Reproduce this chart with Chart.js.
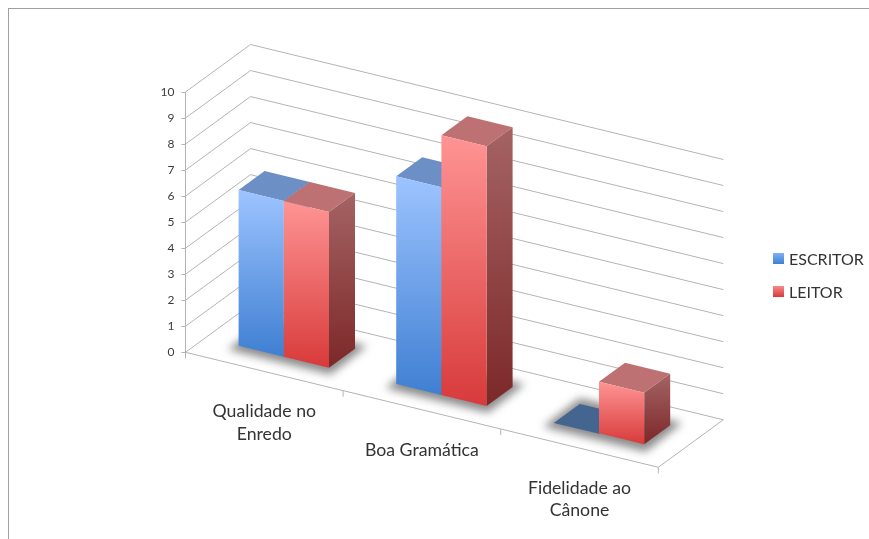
<!DOCTYPE html>
<html>
<head>
<meta charset="utf-8">
<title>Escritor x Leitor</title>
<script src="https://cdn.jsdelivr.net/npm/chart.js@4/dist/chart.umd.min.js"></script>
<style>
    html, body { margin: 0; padding: 0; background: #fff; overflow: hidden; }
    #wrap { position: relative; width: 869px; height: 539px; }
    #frame { position: absolute; left: 8px; top: 8px; right: 0; bottom: 0; border-left: 1px solid #a0a0a0; border-top: 1px solid #a0a0a0; }
    canvas { position: absolute; left: 0; top: 0; }
</style>
</head>
<body>
<div id="wrap">
    <div id="frame"></div>
    <canvas id="graphCanvas" width="869" height="539"></canvas>
</div>
<script>
const categories = [['Qualidade no', 'Enredo'], ['Boa Gramática'], ['Fidelidade ao', 'Cânone']];
const escritorValues = [6, 8, 0];
const leitorValues = [6, 10, 2];
const yMin = 0;
const yMax = 10;

// Oblique projection of the floor: depth vector and slope of the category axis
const DEPTH_X = 65;
const DEPTH_Y = 47.5;
const SLOPE = 0.2432;
const BAR_FRONT = 0.3;
const BAR_BACK = 0.7;

const FONT = 'Lato, "Open Sans", sans-serif';
const GRID = '#b4b4b4';

const palette = [
    { front: ['#9dc4ff', '#3f7fd2'], top: '#6c90c6', side: ['#5f7fb0', '#2f5c9c'], flat: '#456591', swatch: ['#7fb0f5', '#3f7fd2'] },
    { front: ['#ff9494', '#d83a3a'], top: '#bd7172', side: ['#a56364', '#7c2828'], flat: '#bd7172', swatch: ['#f58a8a', '#d83a3a'] }
];

function project(area, px, py, d) {
    return [px + d * DEPTH_X, py + (px - area.left) * SLOPE - d * DEPTH_Y];
}

function line(ctx, a, b) {
    ctx.beginPath();
    ctx.moveTo(a[0], a[1]);
    ctx.lineTo(b[0], b[1]);
    ctx.stroke();
}

function polygon(ctx, pts, fill) {
    ctx.beginPath();
    pts.forEach((p, i) => i ? ctx.lineTo(p[0], p[1]) : ctx.moveTo(p[0], p[1]));
    ctx.closePath();
    ctx.fillStyle = fill;
    ctx.fill();
}

function vGradient(ctx, y0, y1, colors) {
    const g = ctx.createLinearGradient(0, y0, 0, y1);
    g.addColorStop(0, colors[0]);
    g.addColorStop(1, colors[1]);
    return g;
}

// Back wall, left wall and floor, with one line per y tick
function drawWalls(chart) {
    const ctx = chart.ctx;
    const area = chart.chartArea;
    const yScale = chart.scales.y;
    const xScale = chart.scales.x;
    ctx.save();
    ctx.strokeStyle = GRID;
    ctx.lineWidth = 1;
    yScale.ticks.forEach(t => {
        const py = yScale.getPixelForValue(t.value);
        const front = project(area, area.left, py, 0);
        const back = project(area, area.left, py, 1);
        line(ctx, front, back);
        line(ctx, back, project(area, area.right, py, 1));
    });
    const base = yScale.getPixelForValue(yMin);
    line(ctx, project(area, area.left, base, 0), project(area, area.right, base, 0));
    line(ctx, project(area, area.right, base, 0), project(area, area.right, base, 1));

    // category separators below the floor edge
    const step = xScale.getPixelForValue(1) - xScale.getPixelForValue(0);
    for (let i = 0; i <= categories.length; i++) {
        const px = area.left + i * step;
        const p = project(area, px, base, 0);
        line(ctx, p, [p[0], p[1] + 6]);
    }
    ctx.restore();
}

function drawShadows(chart) {
    const ctx = chart.ctx;
    const area = chart.chartArea;
    const first = chart.getDatasetMeta(0).data;
    const last = chart.getDatasetMeta(1).data;
    ctx.save();
    ctx.filter = 'blur(4px)';
    first.forEach((bar, i) => {
        const x0 = bar.x - bar.width / 2 - 6;
        const x1 = last[i].x + last[i].width / 2 + 6;
        const base = bar.base;
        polygon(ctx, [
            project(area, x0, base + 2, BAR_FRONT - 0.07),
            project(area, x1, base + 2, BAR_FRONT - 0.07),
            project(area, x1, base, BAR_BACK + 0.09),
            project(area, x0, base, BAR_BACK + 0.09)
        ], 'rgba(85, 85, 85, 0.68)');
    });
    ctx.restore();
}

function drawBar(chart, bar, colors) {
    const ctx = chart.ctx;
    const area = chart.chartArea;
    const x0 = bar.x - bar.width / 2;
    const x1 = bar.x + bar.width / 2;
    const top = bar.y;
    const base = bar.base;

    if (base - top < 1) {
        polygon(ctx, [
            project(area, x0, base, BAR_FRONT),
            project(area, x1, base, BAR_FRONT),
            project(area, x1, base, BAR_BACK),
            project(area, x0, base, BAR_BACK)
        ], colors.flat);
        return;
    }

    const a = project(area, x0, top, BAR_FRONT);
    const b = project(area, x1, top, BAR_FRONT);
    const c = project(area, x1, base, BAR_FRONT);
    const d = project(area, x0, base, BAR_FRONT);
    const e = project(area, x1, top, BAR_BACK);
    const f = project(area, x0, top, BAR_BACK);
    const g = project(area, x1, base, BAR_BACK);

    polygon(ctx, [a, b, e, f], colors.top);
    polygon(ctx, [b, e, g, c], vGradient(ctx, e[1], c[1], colors.side));
    polygon(ctx, [a, b, c, d], vGradient(ctx, a[1], c[1], colors.front));
}

function drawCategoryLabels(chart) {
    const ctx = chart.ctx;
    const area = chart.chartArea;
    const xScale = chart.scales.x;
    const base = chart.scales.y.getPixelForValue(yMin);
    ctx.save();
    ctx.font = '17.7px ' + FONT;
    ctx.fillStyle = '#333';
    ctx.textAlign = 'center';
    ctx.textBaseline = 'middle';
    categories.forEach((lines, i) => {
        const p = project(area, xScale.getPixelForValue(i), base, 0);
        lines.forEach((text, n) => ctx.fillText(text, p[0], p[1] + 40 + n * 22.5));
    });
    ctx.restore();
}

function drawLegend(chart) {
    const ctx = chart.ctx;
    ctx.save();
    ctx.font = '16px ' + FONT;
    ctx.textBaseline = 'middle';
    chart.data.datasets.forEach((ds, i) => {
        const y = 253 + i * 33;
        ctx.fillStyle = vGradient(ctx, y, y + 11, palette[i].swatch);
        ctx.fillRect(773, y, 11, 11);
        ctx.fillStyle = '#333';
        ctx.fillText(ds.label, 789, y + 7);
    });
    ctx.restore();
}

const obliquePlugin = {
    id: 'oblique',
    beforeDatasetsDraw(chart) {
        drawWalls(chart);
        drawShadows(chart);
    },
    afterDatasetsDraw(chart) {
        categories.forEach((c, i) => {
            chart.data.datasets.forEach((ds, n) => {
                drawBar(chart, chart.getDatasetMeta(n).data[i], palette[n]);
            });
        });
        drawCategoryLabels(chart);
        drawLegend(chart);
    }
};

function initializeChart() {
    const ctx = document.getElementById('graphCanvas').getContext('2d');
    new Chart(ctx, {
        type: 'bar',
        data: {
            labels: categories,
            datasets: [
                { label: 'ESCRITOR', data: escritorValues, backgroundColor: 'transparent' },
                { label: 'LEITOR', data: leitorValues, backgroundColor: 'transparent' }
            ]
        },
        options: {
            responsive: false,
            animation: false,
            datasets: { bar: { barPercentage: 1, categoryPercentage: 0.5736 } },
            layout: { padding: { left: 155.5, right: 210.7, top: 92, bottom: 186.7 } },
            plugins: { legend: { display: false }, tooltip: { enabled: false } },
            scales: {
                x: { display: false },
                y: {
                    min: yMin,
                    max: yMax,
                    afterFit(scale) { scale.width = 30; },
                    grid: { drawOnChartArea: false, color: GRID, tickLength: 4 },
                    border: { color: GRID },
                    ticks: {
                        stepSize: 1,
                        padding: 7,
                        color: '#3c3c3c',
                        font: { family: FONT, size: 12 }
                    }
                }
            }
        },
        plugins: [obliquePlugin]
    });
}

initializeChart();
</script>
</body>
</html>
